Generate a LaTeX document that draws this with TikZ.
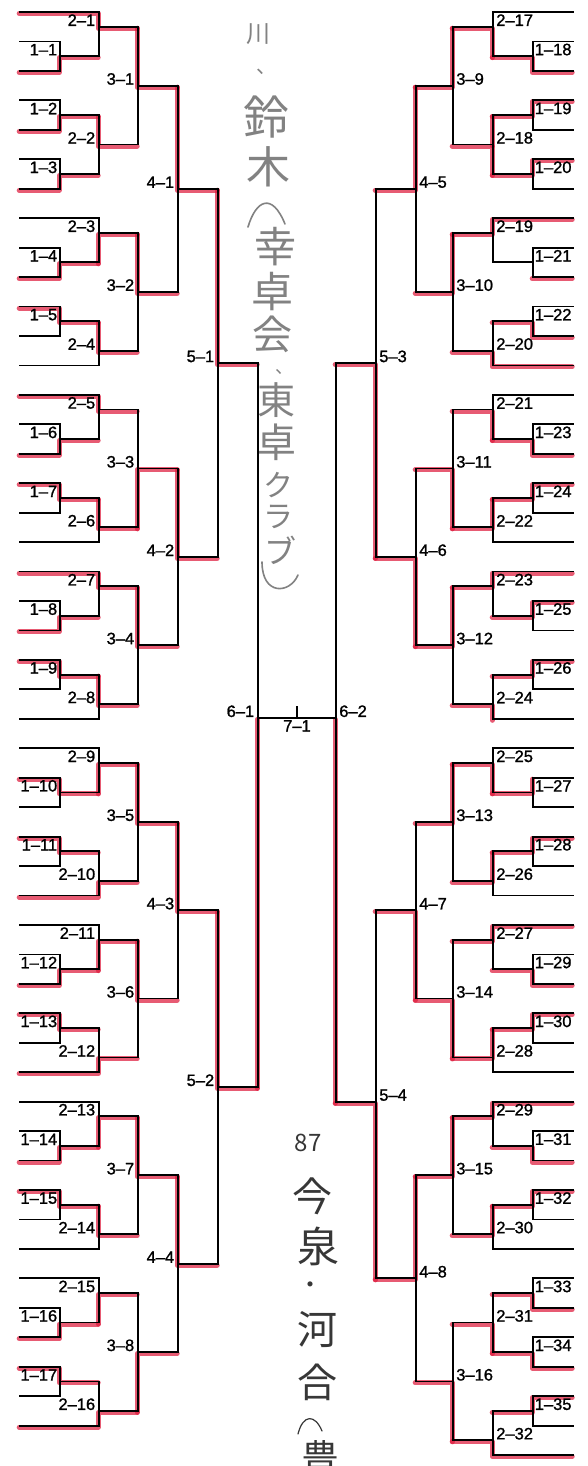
\documentclass[tikz,border=0pt]{standalone}
\usepackage{fontspec}
\setmainfont{Liberation Sans}
\newfontfamily\lbl[FakeBold=1.2]{Liberation Sans}
\newfontfamily\jp{Noto Sans CJK JP}
\definecolor{pen}{RGB}{222,28,62}
\definecolor{pencil}{RGB}{130,130,130}
\definecolor{ink}{RGB}{55,55,55}
\tikzset{
  br/.style={draw=black, line width=1.8pt, line cap=rect},
  hl/.style={draw=pen, line width=5pt, opacity=.72, line cap=round, line join=round},
  lab/.style={font=\lbl\fontsize{16.5}{16.5}\selectfont, inner sep=0.6pt},
  hw/.style={inner sep=0pt},
  hwline/.style={line width=1.6pt, line cap=round},
}
% black bracket pieces (x in pt, y in slot units)
\newcommand\oneL[2]{%
  \draw[br] (20,#1) -- (60,#1) -- (60,#1+1) -- (20,#1+1);
  \draw[br] (60,#1+.5) -- (99,#1+.5);
  \node[lab,anchor=south east] (m1-#2) at (58,#1+.5) {1–#2};}
\newcommand\oneR[2]{%
  \draw[br] (573,#1) -- (533,#1) -- (533,#1+1) -- (573,#1+1);
  \draw[br] (533,#1+.5) -- (493,#1+.5);
  \node[lab,anchor=south west] (m1-#2) at (534,#1+.5) {1–#2};}
\newcommand\mL[7]{%
  \draw[br] (#1,#3) -- (#1,#4);
  \draw[br] (#1,#5) -- (#2,#5);
  \node[lab,anchor=south east] (m#6-#7) at (#1-3,#5) {#6–#7};}
\newcommand\mR[7]{%
  \draw[br] (#1,#3) -- (#1,#4);
  \draw[br] (#1,#5) -- (#2,#5);
  \node[lab,anchor=south west] (m#6-#7) at (#1+2.5,#5) {#6–#7};}
% red winner path
\newcommand\hlp[5]{\draw[hl] (#1,#4) -- (#2,#4) -- (#2,#5) -- (#3,#5);}

\begin{document}
\begin{tikzpicture}[x=1pt,y=-29.45pt]
\useasboundingbox (0pt,0pt) rectangle (587pt,-1466pt);
\fill[white] (0pt,0pt) rectangle (587pt,-1466pt);

% ---------------- handwriting ----------------
\foreach \c/\xx/\yy/\ss [count=\i] in {
  川/258/34/24, 、/266/72/20, 鈴/266/117/46, 木/268/167/44,
  幸/275/247/42, 卓/272/292/42, 会/272/334/40, 、/284/372/18, 東/276/400/38,
  卓/276/442/40, ク/278/485/30, ラ/278/517/30, ブ/280/550/32}
  {\node[hw,text=pencil,font=\jp\fontsize{\ss}{\ss}\selectfont] (ta\i) at (\xx pt,-\yy pt) {\c};}
% vertical brackets of the pencil note
\draw[pencil,hwline] (248pt,-227pt) .. controls (256pt,-200pt) and (272pt,-192pt) .. (285pt,-224pt);
\draw[pencil,hwline] (262pt,-562pt) .. controls (262pt,-596pt) and (290pt,-594pt) .. (298pt,-575pt);
\foreach \c/\xx/\yy/\ss [count=\i] in {
  87/308/1143/24, 今/312/1196/40, 泉/318/1246/42, ・/310/1288/24,
  河/317/1330/40, 合/317/1382/40, 豊/320/1458/38}
  {\node[hw,text=ink,font=\jp\fontsize{\ss}{\ss}\selectfont] (tb\i) at (\xx pt,-\yy pt) {\c};}
\draw[ink,line width=1.2pt,line cap=round] (298pt,-1434pt) .. controls (303pt,-1414pt) and (315pt,-1414pt) .. (322pt,-1431pt);

\begin{scope}[yshift=-12pt]
% ---------------- red highlighting ----------------
\begin{scope}[xshift=-0.8pt,yshift=-1.5pt]
% left round 1
\foreach \w/\oo in {2/1.5,4/3.5,6/5.5,9/8.5,10/10.5,15/14.5,16/16.5,21/20.5,22/22.5,
  26/26.5,28/28.5,33/32.5,34/34.5,39/38.5,40/40.5,45/44.5,46/46.5}
  {\hlp{20}{60}{99}{\w}{\oo}}
% left round 2
\foreach \w/\oo in {0/0.5,13/13.5,19/19.5,30/29.5,36/35.5,48/47.5}
  {\hlp{20}{99}{138}{\w}{\oo}}
\foreach \w/\oo in {3.5/4.5,8.5/7.5,10.5/11.5,16.5/17.5,22.5/23.5,26.5/25.5,
  32.5/31.5,38.5/37.5,40.5/41.5,44.5/43.5}
  {\hlp{99}{99}{138}{\w}{\oo}}
% left rounds 3-6
\foreach \w/\oo in {0.5/2.5,7.5/9.5,17.5/15.5,19.5/21.5,25.5/27.5,31.5/33.5,37.5/39.5,47.5/45.5}
  {\hlp{138}{138}{178}{\w}{\oo}}
\foreach \w/\oo in {2.5/6,15.5/18.5,27.5/30.5,39.5/42.5}
  {\hlp{178}{178}{218}{\w}{\oo}}
\foreach \w/\oo in {6/11.92,30.5/36.5}
  {\hlp{218}{218}{258}{\w}{\oo}}
\draw[hl] (258,36.5) -- (258,23.97);
% right round 1
\foreach \w/\oo in {2/1.5,3/3.5,5/5.5,11/10.5,15/14.5,16/16.5,20/20.5,22/22.5,
  28/28.5,33/32.5,34/34.5,39/38.5,40/40.5,44/43.5,46/45.5,47/47.5}
  {\hlp{573}{533}{493}{\w}{\oo}}
\draw[hl] (573,9) -- (533,9);
\hlp{533}{533}{493}{26}{26.5}
% right round 2
\foreach \w/\oo in {7/7.5,12/11.5,19/19.5,31/31.5,37/37.5,49/48.5}
  {\hlp{573}{493}{453}{\w}{\oo}}
\foreach \w/\oo in {1.5/0.5,5.5/4.5,14.5/13.5,16.5/17.5,24/23.5,26.5/25.5,28.5/29.5,
  34.5/35.5,40.5/41.5,45.5/44.5}
  {\hlp{493}{493}{453}{\w}{\oo}}
\draw[hl] (493,3.5) -- (493,4.5);
% right rounds 3-6
\foreach \w/\oo in {0.5/2.5,7.5/9.5,17.5/15.5,19.5/21.5,25.5/27.5,35.5/33.5,37.5/39.5,48.5/46.5}
  {\hlp{453}{453}{416}{\w}{\oo}}
\foreach \w/\oo in {2.5/6,21.5/18.5,33.5/30.5,39.5/43}
  {\hlp{416}{416}{376}{\w}{\oo}}
\foreach \w/\oo in {18.5/11.92,43/37}
  {\hlp{376}{376}{336}{\w}{\oo}}
\draw[hl] (336,37) -- (336,23.97);
\end{scope}

% ---------------- black bracket, left ----------------
\foreach \a/\nn in {1/1,3/2,5/3,8/4,10/5,14/6,16/7,20/8,22/9,26/10,28/11,32/12,34/13,
  38/14,40/15,44/16,46/17} {\oneL{\a}{\nn}}
\foreach \k in {0,7,12,13,18,19,24,25,30,31,36,37,42,43,48} {\draw[br] (20,\k) -- (99,\k);}
\foreach \ea/\eb/\oo/\nn in {0/1.5/0.5/1,3.5/5.5/4.5/2,7/8.5/7.5/3,10.5/12/11.5/4,
  13/14.5/13.5/5,16.5/18/17.5/6,19/20.5/19.5/7,22.5/24/23.5/8,25/26.5/25.5/9,
  28.5/30/29.5/10,31/32.5/31.5/11,34.5/36/35.5/12,37/38.5/37.5/13,40.5/42/41.5/14,
  43/44.5/43.5/15,46.5/48/47.5/16} {\mL{99}{138}{\ea}{\eb}{\oo}{2}{\nn}}
\foreach \ea/\eb/\oo/\nn in {0.5/4.5/2.5/1,7.5/11.5/9.5/2,13.5/17.5/15.5/3,19.5/23.5/21.5/4,
  25.5/29.5/27.5/5,31.5/35.5/33.5/6,37.5/41.5/39.5/7,43.5/47.5/45.5/8}
  {\mL{138}{178}{\ea}{\eb}{\oo}{3}{\nn}}
\foreach \ea/\eb/\oo/\nn in {2.5/9.5/6/1,15.5/21.5/18.5/2,27.5/33.5/30.5/3,39.5/45.5/42.5/4}
  {\mL{178}{218}{\ea}{\eb}{\oo}{4}{\nn}}
\foreach \ea/\eb/\oo/\nn in {6/18.5/11.92/1,30.5/42.5/36.5/2}
  {\mL{218}{258}{\ea}{\eb}{\oo}{5}{\nn}}
\mL{258}{258}{11.92}{36.5}{23.97}{6}{1}

% ---------------- black bracket, right ----------------
\foreach \a/\nn in {1/18,3/19,5/20,8/21,10/22,14/23,16/24,20/25,22/26,26/27,28/28,32/29,
  34/30,38/31,40/32,43/33,45/34,47/35} {\oneR{\a}{\nn}}
\foreach \k in {0,7,12,13,18,19,24,25,30,31,36,37,42,49} {\draw[br] (573,\k) -- (493,\k);}
\foreach \ea/\eb/\oo/\nn in {0/1.5/0.5/17,3.5/5.5/4.5/18,7/8.5/7.5/19,10.5/12/11.5/20,
  13/14.5/13.5/21,16.5/18/17.5/22,19/20.5/19.5/23,22.5/24/23.5/24,25/26.5/25.5/25,
  28.5/30/29.5/26,31/32.5/31.5/27,34.5/36/35.5/28,37/38.5/37.5/29,40.5/42/41.5/30,
  43.5/45.5/44.5/31,47.5/49/48.5/32} {\mR{493}{453}{\ea}{\eb}{\oo}{2}{\nn}}
\foreach \ea/\eb/\oo/\nn in {0.5/4.5/2.5/9,7.5/11.5/9.5/10,13.5/17.5/15.5/11,19.5/23.5/21.5/12,
  25.5/29.5/27.5/13,31.5/35.5/33.5/14,37.5/41.5/39.5/15,44.5/48.5/46.5/16}
  {\mR{453}{416}{\ea}{\eb}{\oo}{3}{\nn}}
\foreach \ea/\eb/\oo/\nn in {2.5/9.5/6/5,15.5/21.5/18.5/6,27.5/33.5/30.5/7,39.5/46.5/43/8}
  {\mR{416}{376}{\ea}{\eb}{\oo}{4}{\nn}}
\foreach \ea/\eb/\oo/\nn in {6/18.5/11.92/3,30.5/43/37/4}
  {\mR{376}{336}{\ea}{\eb}{\oo}{5}{\nn}}
\mR{336}{336}{11.92}{37}{23.97}{6}{2}

% ---------------- final ----------------
\coordinate (fL) at (258,23.97);
\coordinate (fR) at (336,23.97);
\coordinate (fM) at (297,23.97);
\draw[br] (fL) -- (fR);
\draw[br] (fM) -- ++(0pt,11pt);
\node[lab,anchor=north] (m7-1) at ([yshift=-1.5pt]fM) {7–1};
\end{scope}
\end{tikzpicture}
\end{document}
